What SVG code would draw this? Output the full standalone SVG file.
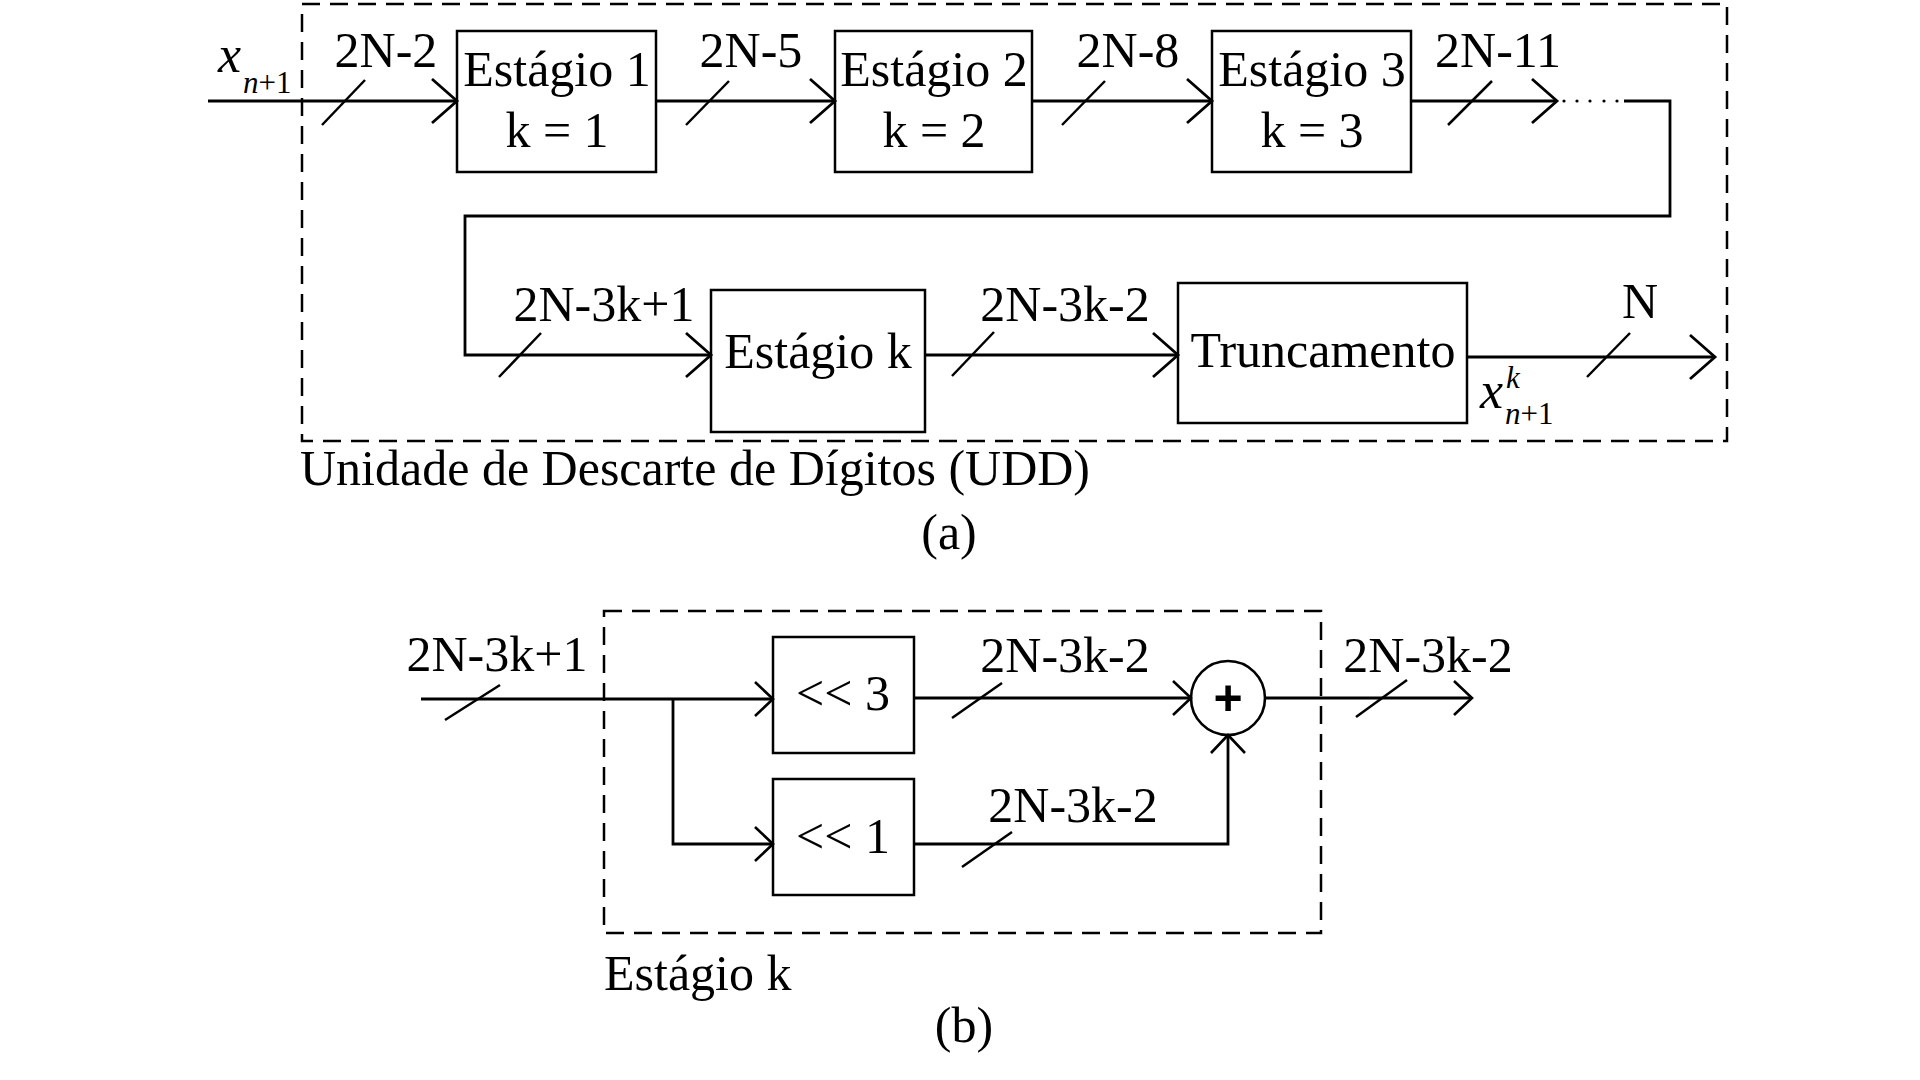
<svg xmlns="http://www.w3.org/2000/svg" width="1920" height="1080" viewBox="0 0 1920 1080">
<defs>
<style>
.t{font-family:"Liberation Serif","Times New Roman",serif;font-size:50px;fill:#000}
.m{text-anchor:middle}
.i{font-style:italic}
.s{font-size:31px}
.box{fill:#fff;stroke:#000;stroke-width:2.5}
.ln{fill:none;stroke:#000;stroke-width:2.8}
.sl{stroke:#000;stroke-width:2.5;fill:none}
.dash{fill:none;stroke:#000;stroke-width:2.5;stroke-dasharray:18 10}
</style>
<marker id="arrA" markerUnits="userSpaceOnUse" markerWidth="40" markerHeight="60" viewBox="-30 -30 40 60" refX="0" refY="0" orient="auto" overflow="visible">
<path d="M-25,-22 L0,0 L-25,22" fill="none" stroke="#000" stroke-width="2.8"/>
</marker>
<marker id="arrB" markerUnits="userSpaceOnUse" markerWidth="40" markerHeight="60" viewBox="-30 -30 40 60" refX="0" refY="0" orient="auto" overflow="visible">
<path d="M-18,-17 L0,0 L-18,17" fill="none" stroke="#000" stroke-width="2.6"/>
</marker>
</defs>
<rect width="1920" height="1080" fill="#fff"/>

<!-- (a) container -->
<g id="udd">
<rect class="dash" x="302" y="4" width="1425" height="437"/>
<text class="t" x="300" y="485">Unidade de Descarte de Dígitos (UDD)</text>
</g>

<g id="estagio1">
<rect class="box" x="457" y="31" width="199" height="141"/>
<text class="t m" x="557" y="86">Estágio 1</text>
<text class="t m" x="557" y="147">k = 1</text>
</g>
<g id="estagio2">
<rect class="box" x="835" y="31" width="197" height="141"/>
<text class="t m" x="934" y="86">Estágio 2</text>
<text class="t m" x="934" y="147">k = 2</text>
</g>
<g id="estagio3">
<rect class="box" x="1212" y="31" width="199" height="141"/>
<text class="t m" x="1312" y="86">Estágio 3</text>
<text class="t m" x="1312" y="147">k = 3</text>
</g>
<g id="estagiok">
<rect class="box" x="711" y="290" width="214" height="142"/>
<text class="t m" x="818" y="368">Estágio k</text>
</g>
<g id="truncamento">
<rect class="box" x="1178" y="283" width="289" height="140"/>
<text class="t m" x="1323" y="367">Truncamento</text>
</g>

<!-- (b) -->
<g id="estagiok-b">
<rect class="dash" x="604" y="611" width="717" height="322"/>
<text class="t" x="604" y="990">Estágio k</text>
</g>
<g id="shift3">
<rect class="box" x="773" y="637" width="141" height="116"/>
<text class="t m" x="843" y="710">&lt;&lt; 3</text>
</g>
<g id="shift1">
<rect class="box" x="773" y="779" width="141" height="116"/>
<text class="t m" x="843" y="853">&lt;&lt; 1</text>
</g>
<g id="soma">
<circle cx="1228" cy="698" r="37" fill="#fff" stroke="#000" stroke-width="2.6"/>
<text x="1228" y="715" text-anchor="middle" style="font-family:'Liberation Sans',Arial,sans-serif;font-weight:bold;font-size:50px">+</text>
</g>

<g id="connectors">
<path class="ln" d="M208,101 H457" marker-end="url(#arrA)"/>
<path class="ln" d="M656,101 H835" marker-end="url(#arrA)"/>
<path class="ln" d="M1032,101 H1212" marker-end="url(#arrA)"/>
<path class="ln" d="M1411,101 H1557" marker-end="url(#arrA)"/>
<g fill="#000">
<circle cx="1564" cy="101" r="1.6"/><circle cx="1577" cy="101" r="1.6"/><circle cx="1590" cy="101" r="1.6"/><circle cx="1604" cy="101" r="1.6"/><circle cx="1617" cy="101" r="1.6"/>
</g>
<path class="ln" d="M1624,101 H1670 V216 H465 V355 H711" marker-end="url(#arrA)"/>
<path class="ln" d="M925,355 H1178" marker-end="url(#arrA)"/>
<path class="ln" d="M1467,357 H1715" marker-end="url(#arrA)"/>

<path class="ln" d="M421,699 H773" marker-end="url(#arrB)"/>
<path class="ln" d="M673,699 V844 H773" marker-end="url(#arrB)"/>
<path class="ln" d="M914,698 H1191" marker-end="url(#arrB)"/>
<path class="ln" d="M914,844 H1228 V735" marker-end="url(#arrB)"/>
<path class="ln" d="M1265,698 H1472" marker-end="url(#arrB)"/>

<!-- bus slashes -->
<line class="sl" x1="322" y1="125" x2="365" y2="80"/>
<line class="sl" x1="686" y1="125" x2="729" y2="81"/>
<line class="sl" x1="1062" y1="125" x2="1105" y2="81"/>
<line class="sl" x1="1448" y1="125" x2="1492" y2="81"/>
<line class="sl" x1="499" y1="377" x2="541" y2="333"/>
<line class="sl" x1="952" y1="376" x2="994" y2="332"/>
<line class="sl" x1="1587" y1="377" x2="1630" y2="333"/>
<line class="sl" x1="445" y1="720" x2="500" y2="685"/>
<line class="sl" x1="952" y1="718" x2="1002" y2="683"/>
<line class="sl" x1="962" y1="867" x2="1012" y2="832"/>
<line class="sl" x1="1356" y1="717" x2="1407" y2="680"/>

<!-- bus labels -->
<text class="t m" x="386" y="67">2N-2</text>
<text class="t m" x="751" y="67">2N-5</text>
<text class="t m" x="1128" y="67">2N-8</text>
<text class="t m" x="1498" y="67">2N-11</text>
<text class="t m" x="604" y="321">2N-3k+1</text>
<text class="t m" x="1065" y="321">2N-3k-2</text>
<text class="t m" x="1640" y="318">N</text>
<text class="t" x="218" y="72"><tspan class="i" style="font-size:52px">x</tspan><tspan class="s" x="243" y="93"><tspan class="i">n</tspan>+1</tspan></text>
<text class="t" x="1480" y="408"><tspan class="i" style="font-size:52px">x</tspan><tspan class="s i" x="1506" y="388">k</tspan><tspan class="s" x="1505" y="424"><tspan class="i">n</tspan>+1</tspan></text>
<text class="t m" x="497" y="671">2N-3k+1</text>
<text class="t m" x="1065" y="672">2N-3k-2</text>
<text class="t m" x="1073" y="822">2N-3k-2</text>
<text class="t m" x="1428" y="672">2N-3k-2</text>
</g>

<text class="t m" x="949" y="549">(a)</text>
<text class="t m" x="964" y="1042">(b)</text>
</svg>
